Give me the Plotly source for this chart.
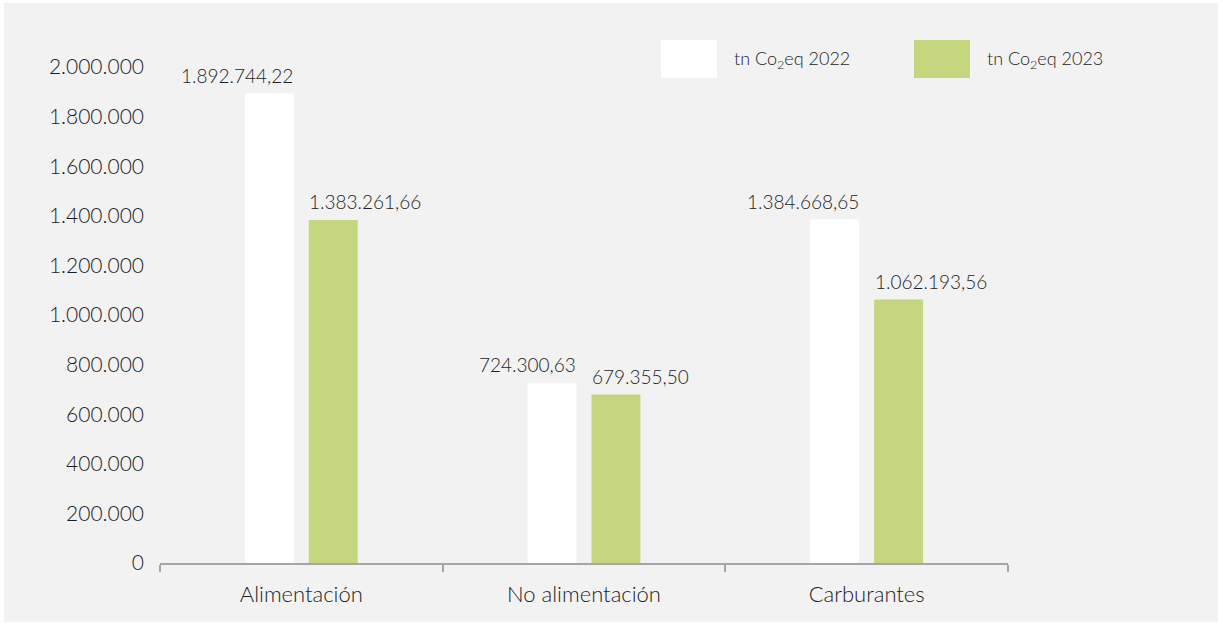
import plotly.graph_objects as go

categorias = ["Alimentación", "No alimentación", "Carburantes"]
series = ["tn Co<sub>2</sub>eq 2022", "tn Co<sub>2</sub>eq 2023"]
emisiones_2022 = [1892744.22, 724300.63, 1384668.65]
emisiones_2023 = [1383261.66, 679355.50, 1062193.56]
y_ticks = [0, 200000, 400000, 600000, 800000, 1000000, 1200000, 1400000,
           1600000, 1800000, 2000000]

colores = ["#ffffff", "#c5d77e"]
fuente = "Lato"
texto = "#1e1e1e"

W, H = 1223, 626
L, R, T, B = 160, 215, 67, 63
pw, ph = W - L - R, H - T - B


def px(xp):
    return (xp - L) / pw


def py(yp):
    return (H - B - yp) / ph


def es(v):
    # formato numérico español: 1.234.567,89
    return f"{v:,.2f}".replace(",", "_").replace(".", ",").replace("_", ".")


fig = go.Figure()
for nombre, valores, color in zip(series, [emisiones_2022, emisiones_2023], colores):
    fig.add_trace(go.Bar(
        x=categorias, y=valores, name=nombre,
        marker=dict(color=color, line=dict(width=0)),
        showlegend=False,
    ))

annotations = []
# etiquetas de valor: 2022 alineadas al borde derecho de su barra,
# 2023 al borde izquierdo de la suya
for valores, anchor, shift in [(emisiones_2022, "right", -6),
                               (emisiones_2023, "left", 6)]:
    for cat, v in zip(categorias, valores):
        annotations.append(dict(
            x=cat, y=v, xref="x", yref="y", text=es(v), showarrow=False,
            xanchor=anchor, yanchor="bottom", xshift=shift, yshift=5,
            font=dict(family=fuente, size=19, color=texto, weight=300)))

shapes = [
    # panel de fondo
    dict(type="rect", xref="paper", yref="paper", layer="below",
         x0=px(4), x1=px(1218), y0=py(622), y1=py(3),
         fillcolor="#f2f2f2", line=dict(width=0)),
]
# leyenda con muestras grandes
for nombre, color, x0 in zip(series, colores, [661, 914]):
    shapes.append(dict(type="rect", xref="paper", yref="paper",
                       x0=px(x0), x1=px(x0 + 56), y0=py(78), y1=py(40),
                       fillcolor=color, line=dict(width=0)))
    annotations.append(dict(xref="paper", yref="paper", x=px(x0 + 71), y=py(59),
                            text=nombre, showarrow=False, xanchor="left",
                            yanchor="middle",
                            font=dict(family=fuente, size=18, color=texto,
                                      weight=300)))

fig.update_layout(
    width=W, height=H,
    margin=dict(l=L, r=R, t=T, b=B),
    paper_bgcolor="#ffffff", plot_bgcolor="rgba(0,0,0,0)",
    separators=",.",
    barmode="group", bargap=0.548, bargroupgap=0.234,
    shapes=shapes, annotations=annotations,
    font=dict(family=fuente, color=texto),
    xaxis=dict(
        showline=True, linecolor="#a6a6a6", linewidth=2,
        ticks="outside", tickson="boundaries", ticklen=7, tickwidth=2,
        tickcolor="#a6a6a6", showgrid=False, ticklabelstandoff=11,
        tickfont=dict(family=fuente, size=22, color=texto, weight=300),
    ),
    yaxis=dict(
        range=[0, 2000000], tickvals=y_ticks, tickformat=",d",
        showgrid=False, zeroline=False, showline=False,
        ticklabelstandoff=15,
        tickfont=dict(family=fuente, size=21, color=texto, weight=300),
    ),
)

fig.write_html("out.html")
